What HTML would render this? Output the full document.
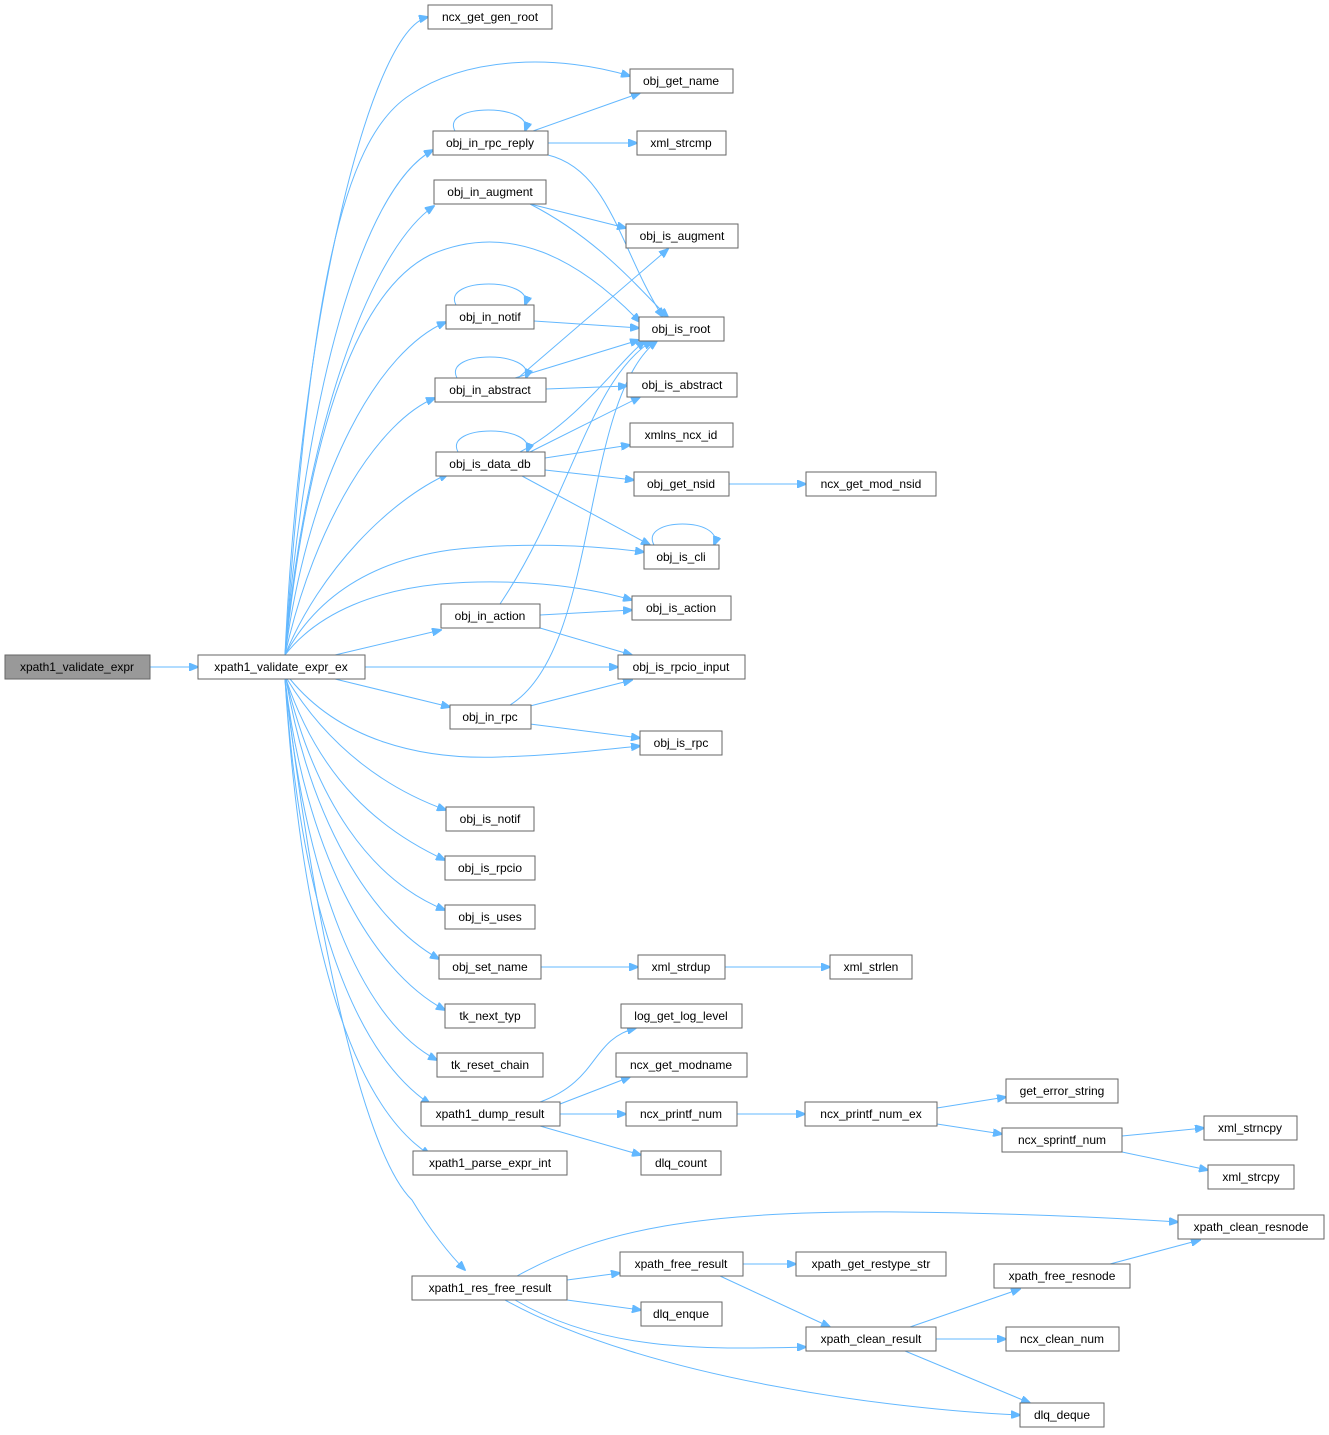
<!DOCTYPE html>
<html><head><meta charset="utf-8"><style>
html,body{margin:0;padding:0;background:#fff;}
svg{display:block;}
text{font-family:"Liberation Sans",Arial,sans-serif;font-size:12px;fill:#000;text-anchor:middle;}
.n{fill:#fff;stroke:#666;stroke-width:1;}
.e{fill:none;stroke:#63b8ff;stroke-width:1;marker-end:url(#a);}
</style></head><body>
<svg width="1329" height="1435" viewBox="0 0 1329 1435" xmlns="http://www.w3.org/2000/svg">
<defs><marker id="a" markerWidth="10" markerHeight="8" refX="9" refY="4" orient="auto" markerUnits="userSpaceOnUse"><path d="M0,0 L10,4 L0,8 z" fill="#63b8ff" stroke="#63b8ff"/></marker></defs>
<g>
<path class="e" d="M150,667 L198,667"/>
<path class="e" d="M285,655 C300,320 370,30 428,17"/>
<path class="e" d="M285,655 C310,300 340,140 410,95 C470,55 560,55 630,76"/>
<path class="e" d="M285,655 C305,400 360,190 433,150"/>
<path class="e" d="M285,655 C305,430 370,250 434,206"/>
<path class="e" d="M285,655 C310,420 360,290 430,255 C510,220 580,260 640,322"/>
<path class="e" d="M285,655 C310,470 380,350 446,322"/>
<path class="e" d="M285,655 C315,520 380,420 435,398"/>
<path class="e" d="M285,655 C320,570 390,500 448,474"/>
<path class="e" d="M285,655 C320,590 380,560 450,550 C520,542 590,545 644,552"/>
<path class="e" d="M285,655 C320,610 380,590 440,584 C510,578 580,585 632,600"/>
<path class="e" d="M335,655 L441,630"/>
<path class="e" d="M365,667 L618,667"/>
<path class="e" d="M335,679 L450,707"/>
<path class="e" d="M290,679 C340,740 420,760 500,757 C560,755 600,750 640,746"/>
<path class="e" d="M287,679 C330,750 390,790 446,810"/>
<path class="e" d="M286,679 C320,780 380,830 445,860"/>
<path class="e" d="M286,679 C315,800 370,880 445,910"/>
<path class="e" d="M286,679 C310,820 370,920 439,959"/>
<path class="e" d="M285,679 C305,850 370,970 445,1010"/>
<path class="e" d="M285,679 C305,880 360,1020 437,1060"/>
<path class="e" d="M285,679 C300,900 350,1050 430,1104"/>
<path class="e" d="M285,679 C300,920 345,1100 430,1155"/>
<path class="e" d="M285,679 C310,900 360,1150 412,1200 C430,1230 450,1255 465,1270"/>
<path class="e" d="M455,131 C440,103 535,103 525,131"/>
<path class="e" d="M533,131 L640,93"/>
<path class="e" d="M548,143 L637,143"/>
<path class="e" d="M548,155 C610,170 620,250 663,317"/>
<path class="e" d="M530,204 L626,228"/>
<path class="e" d="M530,204 C600,240 640,290 668,317"/>
<path class="e" d="M456,305 C441,277 535,277 525,305"/>
<path class="e" d="M534,321 L639,328"/>
<path class="e" d="M457,378 C442,350 536,350 526,378"/>
<path class="e" d="M515,378 L639,340"/>
<path class="e" d="M546,389 L627,386"/>
<path class="e" d="M518,378 L668,249"/>
<path class="e" d="M458,452 C443,424 537,424 527,452"/>
<path class="e" d="M520,452 C580,420 620,360 645,341"/>
<path class="e" d="M530,452 L640,397"/>
<path class="e" d="M545,458 L630,445"/>
<path class="e" d="M545,470 L634,480"/>
<path class="e" d="M522,476 L650,545"/>
<path class="e" d="M729,484 L806,484"/>
<path class="e" d="M654,545 C639,517 725,517 714,545"/>
<path class="e" d="M500,604 C570,500 590,380 652,341"/>
<path class="e" d="M540,615 L632,610"/>
<path class="e" d="M540,628 L632,655"/>
<path class="e" d="M510,705 C600,650 580,400 657,341"/>
<path class="e" d="M530,706 L632,680"/>
<path class="e" d="M530,724 L640,738"/>
<path class="e" d="M541,967 L638,967"/>
<path class="e" d="M725,967 L830,967"/>
<path class="e" d="M540,1102 C600,1080 590,1040 636,1028"/>
<path class="e" d="M560,1104 L630,1077"/>
<path class="e" d="M560,1114 L626,1114"/>
<path class="e" d="M540,1126 L641,1155"/>
<path class="e" d="M737,1114 L805,1114"/>
<path class="e" d="M937,1108 L1006,1097"/>
<path class="e" d="M937,1124 L1002,1134"/>
<path class="e" d="M1122,1136 L1204,1128"/>
<path class="e" d="M1122,1152 L1208,1170"/>
<path class="e" d="M517,1276 C600,1230 700,1210 900,1212 C1000,1213 1100,1217 1178,1222"/>
<path class="e" d="M567,1280 L620,1273"/>
<path class="e" d="M567,1300 L641,1310"/>
<path class="e" d="M515,1300 C600,1350 700,1350 806,1347"/>
<path class="e" d="M505,1300 C650,1380 900,1410 1020,1415"/>
<path class="e" d="M743,1264 L796,1264"/>
<path class="e" d="M720,1276 L830,1327"/>
<path class="e" d="M910,1327 L1020,1289"/>
<path class="e" d="M936,1339 L1006,1339"/>
<path class="e" d="M905,1351 L1030,1403"/>
<path class="e" d="M1110,1264 L1200,1240"/>
</g>
<g>
<rect x="5" y="655" width="145" height="24" fill="#999" stroke="#666"/><text x="77" y="671">xpath1_validate_expr</text>
<rect class="n" x="198" y="655" width="167" height="24"/><text x="281" y="671">xpath1_validate_expr_ex</text>
<rect class="n" x="428" y="5" width="124" height="24"/><text x="490" y="21">ncx_get_gen_root</text>
<rect class="n" x="630" y="69" width="103" height="24"/><text x="681" y="85">obj_get_name</text>
<rect class="n" x="433" y="131" width="115" height="24"/><text x="490" y="147">obj_in_rpc_reply</text>
<rect class="n" x="637" y="131" width="89" height="24"/><text x="681" y="147">xml_strcmp</text>
<rect class="n" x="434" y="180" width="112" height="24"/><text x="490" y="196">obj_in_augment</text>
<rect class="n" x="626" y="224" width="112" height="24"/><text x="682" y="240">obj_is_augment</text>
<rect class="n" x="446" y="305" width="88" height="24"/><text x="490" y="321">obj_in_notif</text>
<rect class="n" x="639" y="317" width="85" height="24"/><text x="681" y="333">obj_is_root</text>
<rect class="n" x="435" y="378" width="111" height="24"/><text x="490" y="394">obj_in_abstract</text>
<rect class="n" x="627" y="373" width="110" height="24"/><text x="682" y="389">obj_is_abstract</text>
<rect class="n" x="630" y="423" width="103" height="24"/><text x="681" y="439">xmlns_ncx_id</text>
<rect class="n" x="436" y="452" width="109" height="24"/><text x="490" y="468">obj_is_data_db</text>
<rect class="n" x="634" y="472" width="95" height="24"/><text x="681" y="488">obj_get_nsid</text>
<rect class="n" x="806" y="472" width="130" height="24"/><text x="871" y="488">ncx_get_mod_nsid</text>
<rect class="n" x="644" y="545" width="75" height="24"/><text x="681" y="561">obj_is_cli</text>
<rect class="n" x="632" y="596" width="99" height="24"/><text x="681" y="612">obj_is_action</text>
<rect class="n" x="441" y="604" width="99" height="24"/><text x="490" y="620">obj_in_action</text>
<rect class="n" x="618" y="655" width="127" height="24"/><text x="681" y="671">obj_is_rpcio_input</text>
<rect class="n" x="450" y="705" width="81" height="24"/><text x="490" y="721">obj_in_rpc</text>
<rect class="n" x="640" y="731" width="82" height="24"/><text x="681" y="747">obj_is_rpc</text>
<rect class="n" x="446" y="807" width="88" height="24"/><text x="490" y="823">obj_is_notif</text>
<rect class="n" x="445" y="856" width="90" height="24"/><text x="490" y="872">obj_is_rpcio</text>
<rect class="n" x="445" y="905" width="90" height="24"/><text x="490" y="921">obj_is_uses</text>
<rect class="n" x="439" y="955" width="102" height="24"/><text x="490" y="971">obj_set_name</text>
<rect class="n" x="638" y="955" width="87" height="24"/><text x="681" y="971">xml_strdup</text>
<rect class="n" x="830" y="955" width="82" height="24"/><text x="871" y="971">xml_strlen</text>
<rect class="n" x="445" y="1004" width="90" height="24"/><text x="490" y="1020">tk_next_typ</text>
<rect class="n" x="621" y="1004" width="121" height="24"/><text x="681" y="1020">log_get_log_level</text>
<rect class="n" x="437" y="1053" width="106" height="24"/><text x="490" y="1069">tk_reset_chain</text>
<rect class="n" x="616" y="1053" width="131" height="24"/><text x="681" y="1069">ncx_get_modname</text>
<rect class="n" x="421" y="1102" width="139" height="24"/><text x="490" y="1118">xpath1_dump_result</text>
<rect class="n" x="626" y="1102" width="111" height="24"/><text x="681" y="1118">ncx_printf_num</text>
<rect class="n" x="805" y="1102" width="132" height="24"/><text x="871" y="1118">ncx_printf_num_ex</text>
<rect class="n" x="1006" y="1079" width="112" height="24"/><text x="1062" y="1095">get_error_string</text>
<rect class="n" x="1002" y="1128" width="120" height="24"/><text x="1062" y="1144">ncx_sprintf_num</text>
<rect class="n" x="1204" y="1116" width="93" height="24"/><text x="1250" y="1132">xml_strncpy</text>
<rect class="n" x="1208" y="1165" width="86" height="24"/><text x="1251" y="1181">xml_strcpy</text>
<rect class="n" x="641" y="1151" width="80" height="24"/><text x="681" y="1167">dlq_count</text>
<rect class="n" x="413" y="1151" width="154" height="24"/><text x="490" y="1167">xpath1_parse_expr_int</text>
<rect class="n" x="1178" y="1215" width="146" height="24"/><text x="1251" y="1231">xpath_clean_resnode</text>
<rect class="n" x="620" y="1252" width="123" height="24"/><text x="681" y="1268">xpath_free_result</text>
<rect class="n" x="796" y="1252" width="150" height="24"/><text x="871" y="1268">xpath_get_restype_str</text>
<rect class="n" x="994" y="1264" width="136" height="24"/><text x="1062" y="1280">xpath_free_resnode</text>
<rect class="n" x="412" y="1276" width="155" height="24"/><text x="490" y="1292">xpath1_res_free_result</text>
<rect class="n" x="641" y="1302" width="81" height="24"/><text x="681" y="1318">dlq_enque</text>
<rect class="n" x="806" y="1327" width="130" height="24"/><text x="871" y="1343">xpath_clean_result</text>
<rect class="n" x="1006" y="1327" width="113" height="24"/><text x="1062" y="1343">ncx_clean_num</text>
<rect class="n" x="1020" y="1403" width="84" height="24"/><text x="1062" y="1419">dlq_deque</text>
</g>
</svg>
</body></html>
